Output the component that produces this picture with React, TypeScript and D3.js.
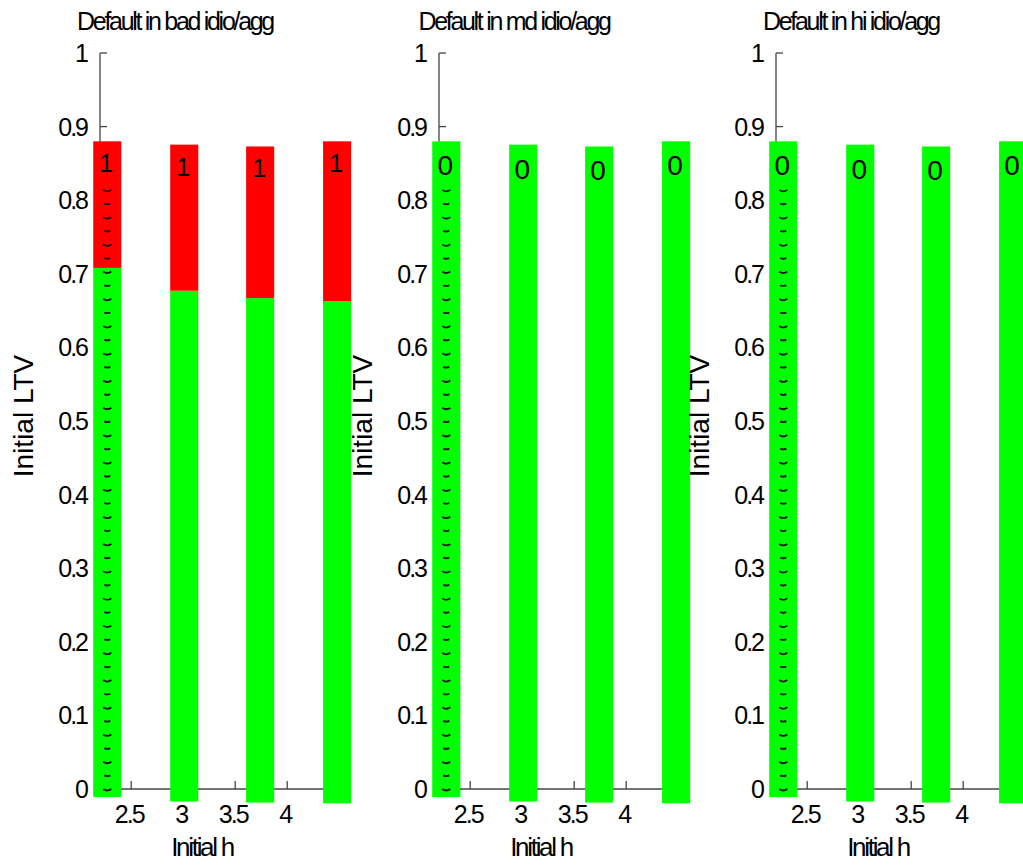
import React, { useEffect, useRef } from 'react';
import * as d3 from 'd3';

// panel titles (one per idio/agg scenario)
const panelTitles = ['Default in bad idio/agg', 'Default in md idio/agg', 'Default in hi idio/agg'];

// initial h of each bar
const hValues = [2.27, 3.01, 3.74, 4.48];

// bar extents in LTV
const ltvTop = [0.88, 0.8755, 0.873, 0.88];
const ltvBottom = [-0.011, -0.017, -0.0185, -0.0195];

// LTV where default starts (red above), per panel; null = no default region
const defaultFrom = [
  [0.708, 0.677, 0.667, 0.663],
  [null, null, null, null],
  [null, null, null, null],
];

// default flag printed on each bar
const defaultFlags = [
  ['1', '1', '1', '1'],
  ['0', '0', '0', '0'],
  ['0', '0', '0', '0'],
];

// LTV grid markers on the first bar
const gridLtv = [
  0, 0.0185, 0.037, 0.0555, 0.074, 0.0925, 0.111, 0.1295, 0.148, 0.1665,
  0.185, 0.2035, 0.222, 0.2405, 0.259, 0.2775, 0.296, 0.3145, 0.333, 0.3515,
  0.37, 0.3885, 0.407, 0.4255, 0.444, 0.4625, 0.481, 0.4995, 0.518, 0.5365,
  0.555, 0.5735, 0.592, 0.6105, 0.629, 0.6475, 0.666, 0.6845, 0.703, 0.7215,
  0.74, 0.7585, 0.777, 0.7955, 0.814,
];

const xTicks = [2.5, 3, 3.5, 4];
const yTicks = [0, 0.1, 0.2, 0.3, 0.4, 0.5, 0.6, 0.7, 0.8, 0.9, 1];

const App = () => {
  const ref = useRef<SVGSVGElement | null>(null);

  useEffect(() => {
    if (!ref.current) return;
    const root = d3.select(ref.current);
    root.selectAll('*').remove();

    const panelLeft = [100, 439, 776];
    const font = '"Liberation Sans", Arial, sans-serif';
    const barW = 0.27;

    const y = d3.scaleLinear().domain([0, 1]).range([789, 53]);

    panelTitles.forEach((title, p) => {
      const ox = panelLeft[p];
      const x = d3.scaleLinear().domain([2.2, 4.6]).range([ox, ox + 249.6]);
      const g = root.append('g');

      // axes lines
      g.append('line')
        .attr('x1', ox).attr('x2', ox)
        .attr('y1', y(1)).attr('y2', y(0))
        .attr('stroke', '#444').attr('stroke-width', 1.3);
      g.append('line')
        .attr('x1', ox).attr('x2', x(4.6))
        .attr('y1', y(0)).attr('y2', y(0))
        .attr('stroke', '#444').attr('stroke-width', 1.3);

      // y ticks + labels
      yTicks.forEach(t => {
        g.append('line')
          .attr('x1', ox).attr('x2', ox + 7)
          .attr('y1', y(t)).attr('y2', y(t))
          .attr('stroke', '#444').attr('stroke-width', 1.3);
        g.append('text')
          .attr('x', ox - 13)
          .attr('y', y(t) + 9)
          .attr('text-anchor', 'end')
          .style('font-family', font)
          .style('font-size', '25px')
          .style('letter-spacing', '-2px')
          .text(d3.format('~g')(t));
      });

      // x ticks + labels
      xTicks.forEach(t => {
        g.append('line')
          .attr('x1', x(t)).attr('x2', x(t))
          .attr('y1', y(0)).attr('y2', y(0) - 8)
          .attr('stroke', '#444').attr('stroke-width', 1.3);
        g.append('text')
          .attr('x', x(t) - 2)
          .attr('y', y(0) + 34)
          .attr('text-anchor', 'middle')
          .style('font-family', font)
          .style('font-size', '25px')
          .style('letter-spacing', '-2px')
          .text(d3.format('~g')(t));
      });

      // bars
      hValues.forEach((h, i) => {
        const x0 = x(h - barW / 2);
        const w = x(h + barW / 2) - x0;
        const split = defaultFrom[p][i];
        const greenTop = split == null ? ltvTop[i] : split;
        g.append('rect')
          .attr('x', x0).attr('y', y(greenTop))
          .attr('width', w).attr('height', y(ltvBottom[i]) - y(greenTop))
          .attr('fill', '#00ff00');
        if (split != null) {
          g.append('rect')
            .attr('x', x0).attr('y', y(ltvTop[i]))
            .attr('width', w).attr('height', y(split) - y(ltvTop[i]))
            .attr('fill', '#ff0000');
        }
        const flag = defaultFlags[p][i];
        g.append('text')
          .attr('x', x(h) - 1)
          .attr('y', y(ltvTop[i]) + (flag === '0' ? 34 : 31))
          .attr('text-anchor', 'middle')
          .style('font-family', font)
          .style('font-size', flag === '0' ? '28px' : '25px')
          .text(flag);
      });

      // grid markers on first bar
      gridLtv.forEach((v, k) => {
        const cx = x(hValues[0]);
        const half = k % 2 === 0 ? 4 : 3;
        g.append('path')
          .attr('d', `M${cx - half},${y(v)} Q${cx},${y(v) + (k % 2 === 0 ? 3 : 1.5)} ${cx + half},${y(v)}`)
          .attr('fill', 'none')
          .attr('stroke', '#111')
          .attr('stroke-width', 1.8);
      });

      // title
      g.append('text')
        .attr('x', ox + 75)
        .attr('y', 30)
        .attr('text-anchor', 'middle')
        .style('font-family', font)
        .style('font-size', '25px')
        .style('letter-spacing', '-2.3px')
        .text(title);

      // x label
      g.append('text')
        .attr('x', ox + 102)
        .attr('y', 856)
        .attr('text-anchor', 'middle')
        .style('font-family', font)
        .style('font-size', '26px')
        .style('letter-spacing', '-2.3px')
        .text('Initial h');

      // y label
      g.append('text')
        .attr('transform', `translate(${ox - 67},416) rotate(-90)`)
        .attr('text-anchor', 'middle')
        .style('font-family', font)
        .style('font-size', '28px')
        .text('Initial LTV');
    });
  }, []);

  return (
    <div style={{ position: 'absolute', left: 0, top: 0 }}>
      <svg ref={ref} width={1023} height={867} style={{ display: 'block', background: '#fff' }} />
    </div>
  );
};

export default App;
